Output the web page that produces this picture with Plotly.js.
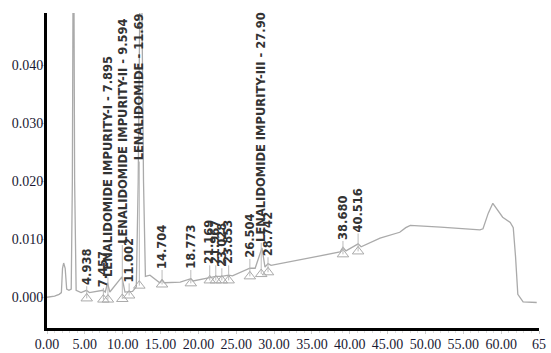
<!DOCTYPE html>
<html>
<head>
<meta charset="utf-8">
<script src="https://cdn.plot.ly/plotly-3.0.1.min.js"></script>
<style>html,body{margin:0;padding:0;background:#fff;}#chart{width:551px;height:353px;}</style>
</head>
<body>
<div id="chart"></div>
<script>
// Chromatogram signal (retention time in min, absorbance AU)
const traceTime = [0, 1.0, 1.6, 1.9, 2.05, 2.2, 2.4, 2.6, 2.9, 3.2, 3.35, 3.5, 3.65, 3.85, 4.5, 5.2, 5.6, 7.4, 7.7, 8.0, 8.3, 9.9, 10.3, 11.3, 11.8, 12.05, 12.4, 12.75, 13.0, 13.6, 14.9, 15.2, 15.5, 17.6, 19.0, 19.3, 21.5, 22.3, 23.1, 24.0, 24.5, 26.8, 27.5, 28.4, 28.8, 29.2, 29.6, 33, 38.7, 39.1, 39.5, 41.1, 41.5, 44, 46.6, 47.4, 48, 52, 57.2, 57.6, 58.3, 58.9, 59.6, 60.2, 61.2, 61.6, 61.9, 62.2, 62.9, 64.7];
const traceSignal = [0.0000, 0.0002, 0.0005, 0.0008, 0.0050, 0.0059, 0.0050, 0.0014, 0.0012, 0.0014, 0.020, 0.075, 0.020, 0.0012, 0.0008, 0.0012, 0.0008, 0.0012, 0.0009, 0.0025, 0.0009, 0.0035, 0.0009, 0.0010, 0.0018, 0.020, 0.070, 0.020, 0.0036, 0.0038, 0.0025, 0.0030, 0.0025, 0.0026, 0.0032, 0.0028, 0.0034, 0.0036, 0.0036, 0.0038, 0.0037, 0.0050, 0.0050, 0.0085, 0.0052, 0.0058, 0.0055, 0.0064, 0.0078, 0.0086, 0.0080, 0.0092, 0.0087, 0.0102, 0.0112, 0.0120, 0.0124, 0.0121, 0.0116, 0.0118, 0.0145, 0.0162, 0.0150, 0.0138, 0.0129, 0.0120, 0.0070, 0.0005, -0.0008, -0.0009];

// Peak annotations
const peakLabels = ["4.938", "7.457", "LENALIDOMIDE IMPURITY-I - 7.895", "LENALIDOMIDE IMPURITY-II - 9.594", "11.002", "LENALIDOMIDE - 11.69", "14.704", "18.773", "21.169", "21.967", "23.028", "23.853", "26.504", "LENALIDOMIDE IMPURITY-III - 27.90", "28.742", "38.680", "40.516"];
const peakTime   = [5.25, 7.45, 8.05, 9.95, 10.85, 12.2, 15.2, 19.0, 21.5, 22.3, 23.1, 24.0, 26.8, 28.3, 29.2, 39.1, 41.1];
const labelBase  = [0.0019, 0.0016, 0.0034, 0.0090, 0.0024, 0.0234, 0.0047, 0.0047, 0.0055, 0.0055, 0.0050, 0.0055, 0.0066, 0.0094, 0.0069, 0.0097, 0.0110];
const markerLevel = [-0.0002, -0.0004, -0.0004, -0.0003, 0.0003, 0.0020, 0.0022, 0.0024, 0.0029, 0.0029, 0.0029, 0.0029, 0.0036, 0.0040, 0.0043, 0.0074, 0.0079];

// Axis ticks
const xTickVals = [0, 5, 10, 15, 20, 25, 30, 35, 40, 45, 50, 55, 60, 65];
const xTickText = ["0.00", "5.00", "10.00", "15.00", "20.00", "25.00", "30.00", "35.00", "40.00", "45.00", "50.00", "55.00", "60.00", "65"];
const yTickVals = [0, 0.01, 0.02, 0.03, 0.04];
const yTickText = ["0.000", "0.010", "0.020", "0.030", "0.040"];

const connX = [], connY = [];
peakTime.forEach((t, i) => { connX.push(t, t, null); connY.push(labelBase[i], markerLevel[i], null); });

const traces = [
  { x: traceTime, y: traceSignal, mode: 'lines', line: { color: '#aaaaaa', width: 1.3 }, hoverinfo: 'skip' },
  { x: connX, y: connY, mode: 'lines', line: { color: '#bbbbbb', width: 1 }, hoverinfo: 'skip' },
  { x: peakTime, y: markerLevel, mode: 'markers', marker: { symbol: 'triangle-up-open', size: 10, color: '#aaaaaa', line: { width: 1, color: '#aaaaaa' } }, hoverinfo: 'skip' }
];

const annotations = peakLabels.map((txt, i) => ({
  x: peakTime[i], y: labelBase[i], xref: 'x', yref: 'y', text: txt, showarrow: false,
  textangle: -90, xanchor: 'center', yanchor: 'bottom', borderpad: 0,
  font: { family: 'DejaVu Sans', size: 11.5, color: '#333333', weight: 'bold' }
}));

const serif = "'Times New Roman', 'Liberation Serif', 'DejaVu Serif', serif";

const layout = {
  width: 551, height: 353,
  margin: { l: 47, r: 12, t: 13, b: 25 },
  paper_bgcolor: '#ffffff', plot_bgcolor: '#ffffff',
  showlegend: false,
  xaxis: {
    range: [0, 65], tickvals: xTickVals, ticktext: xTickText,
    showgrid: false, zeroline: false, showline: true, linecolor: '#000000', linewidth: 3,
    ticks: 'outside', ticklen: 3, tickcolor: '#cccccc', tickwidth: 1, ticklabelstandoff: -2,
    tickfont: { family: serif, size: 14, color: '#1a1a33' },
    minor: { ticks: 'outside', ticklen: 2, tickcolor: '#dddddd', dtick: 1 }
  },
  yaxis: {
    range: [-0.0053, 0.049], tickvals: yTickVals, ticktext: yTickText,
    showgrid: false, zeroline: false, showline: true, linecolor: '#000000', linewidth: 3,
    ticks: 'outside', ticklen: 3, tickcolor: '#cccccc', tickwidth: 1, ticklabelstandoff: -5,
    tickfont: { family: serif, size: 14, color: '#1a1a33' }
  },
  annotations: annotations
};

Plotly.newPlot('chart', traces, layout, { displayModeBar: false, staticPlot: true });
</script>
</body>
</html>
